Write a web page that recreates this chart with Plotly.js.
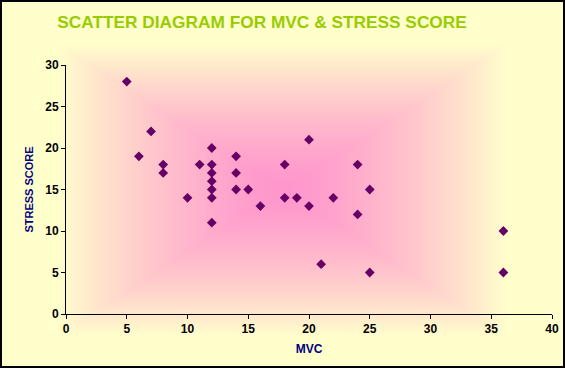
<!DOCTYPE html>
<html>
<head>
<meta charset="utf-8">
<script src="https://cdn.plot.ly/plotly-3.0.1.min.js"></script>
<style>
html,body{margin:0;padding:0;}
#chart{width:565px;height:368px;background-repeat:no-repeat;}
</style>
</head>
<body>
<div id="chart"></div>
<script>
// Data
var mvc    = [5, 6, 7, 8, 8, 10, 11, 12, 12, 12, 12, 12, 12, 12, 14, 14, 14, 15, 16, 18, 18, 19, 20, 20, 21, 22, 24, 24, 25, 25, 36, 36];
var stress = [28, 19, 22, 18, 17, 14, 18, 20, 18, 17, 16, 15, 14, 11, 19, 17, 15, 15, 13, 18, 14, 14, 21, 13, 6, 14, 18, 12, 15, 5, 10, 5];
var xTicks = [0, 5, 10, 15, 20, 25, 30, 35, 40];
var yTicks = [0, 5, 10, 15, 20, 25, 30];

// Background: rectangular "from centre" gradient (pink core to cream edges) + black frame
(function(){
  var W = 565, H = 368;
  var c = document.createElement('canvas');
  c.width = W; c.height = H;
  var ctx = c.getContext('2d');
  var img = ctx.createImageData(W, H);
  var cx = 282, cy = 190, hw = 283, hh = 184;
  var p = [255, 150, 204], q = [255, 255, 204];
  for (var y = 0; y < H; y++) {
    for (var x = 0; x < W; x++) {
      var t = Math.max(Math.abs(x - cx) / hw, Math.abs(y - cy) / hh);
      var s = Math.min(1, t / 0.8);
      s = Math.pow(s, 1.4);
      var i = (y * W + x) * 4;
      img.data[i]   = Math.round(p[0] + (q[0] - p[0]) * s);
      img.data[i+1] = Math.round(p[1] + (q[1] - p[1]) * s);
      img.data[i+2] = Math.round(p[2] + (q[2] - p[2]) * s);
      img.data[i+3] = 255;
    }
  }
  ctx.putImageData(img, 0, 0);
  ctx.strokeStyle = '#000';
  ctx.lineWidth = 2;
  ctx.strokeRect(1, 1, W - 2, H - 2);
  document.getElementById('chart').style.backgroundImage = 'url(' + c.toDataURL() + ')';
})();

var trace = {
  x: mvc,
  y: stress,
  type: 'scatter',
  mode: 'markers',
  marker: {symbol: 'diamond', size: 7.5, color: '#660066', line: {width: 0}},
  hoverinfo: 'x+y'
};

var axisFont = {family: 'Liberation Sans, Arial, sans-serif', size: 12, color: '#000', weight: 'bold'};

var layout = {
  width: 565,
  height: 368,
  margin: {l: 66, r: 13, t: 65, b: 54, pad: 0},
  paper_bgcolor: 'rgba(0,0,0,0)',
  plot_bgcolor: 'rgba(0,0,0,0)',
  showlegend: false,
  title: {
    text: 'SCATTER DIAGRAM FOR MVC &amp; STRESS SCORE',
    font: {family: 'Liberation Sans, Arial, sans-serif', size: 17.3, color: '#99CC00', weight: 'bold'},
    x: 262/565, xref: 'container', xanchor: 'center',
    y: 1 - 21.5/368, yref: 'container', yanchor: 'middle'
  },
  xaxis: {
    range: [0, 40],
    tickvals: xTicks,
    ticktext: xTicks.map(String),
    showgrid: false, zeroline: false,
    showline: true, linecolor: '#000', linewidth: 1,
    ticks: 'outside', ticklen: 4, tickcolor: '#000', tickwidth: 1,
    tickfont: axisFont,
    title: {text: 'MVC', standoff: 9,
      font: {family: 'Liberation Sans, Arial, sans-serif', size: 12, color: '#000080', weight: 'bold'}},
    fixedrange: true
  },
  yaxis: {
    range: [0, 30],
    tickvals: yTicks,
    ticktext: yTicks.map(String),
    showgrid: false, zeroline: false,
    showline: true, linecolor: '#000', linewidth: 1,
    ticks: 'outside', ticklen: 4, tickcolor: '#000', tickwidth: 1,
    tickfont: axisFont,
    title: {text: 'STRESS SCORE', standoff: 9,
      font: {family: 'Liberation Sans, Arial, sans-serif', size: 11, color: '#000080', weight: 'bold'}},
    fixedrange: true
  }
};

Plotly.newPlot('chart', [trace], layout, {displayModeBar: false, staticPlot: true});
</script>
</body>
</html>
